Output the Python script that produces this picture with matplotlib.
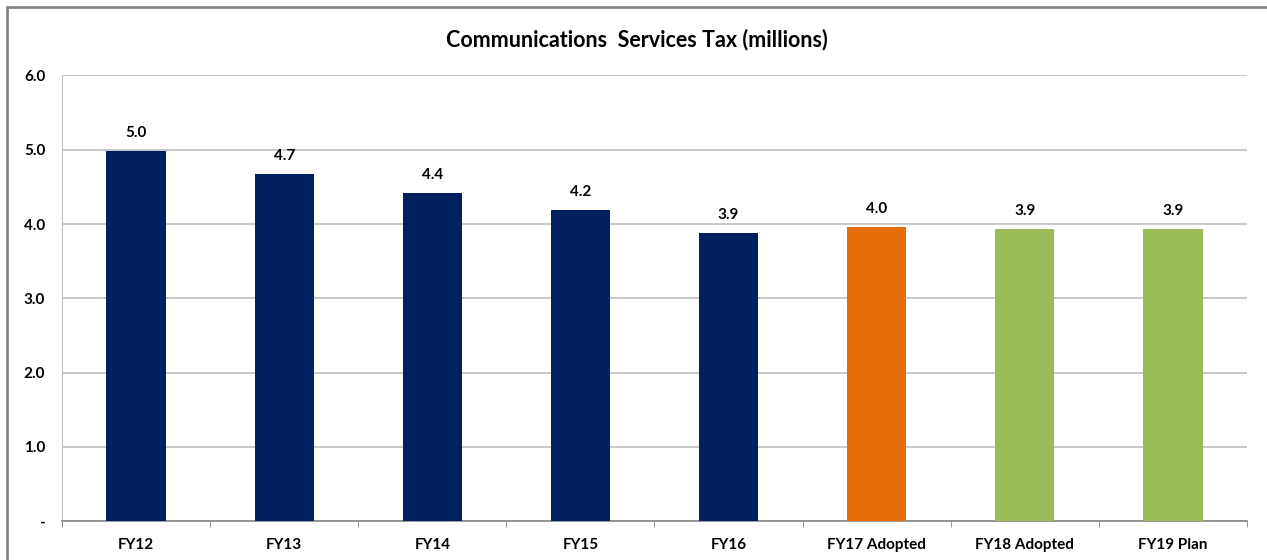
import matplotlib.pyplot as plt
import numpy as np
from matplotlib.patches import Rectangle

# dữ liệu thuế dịch vụ viễn thông (triệu)
categories = ['FY12', 'FY13', 'FY14', 'FY15', 'FY16', 'FY17 Adopted', 'FY18 Adopted', 'FY19 Plan']
values = [4.98, 4.67, 4.42, 4.19, 3.88, 3.96, 3.93, 3.93]
value_labels = ['5.0', '4.7', '4.4', '4.2', '3.9', '4.0', '3.9', '3.9']
bar_colors = ['#002060'] * 5 + ['#E46C0A'] + ['#9BBB59'] * 2
y_ticks = [0, 1, 2, 3, 4, 5, 6]
y_tick_labels = ['-', '1.0', '2.0', '3.0', '4.0', '5.0', '6.0']

plt.rcParams['font.family'] = ['Lato', 'DejaVu Sans']
plt.rcParams['font.weight'] = 'bold'

fig = plt.figure(figsize=(12.67, 5.6), dpi=100)
ax = fig.add_axes([0.0489, 0.0696, 0.9353, 0.7956])

# khung viền xám bên ngoài
fig.patches.append(Rectangle((6.5 / 1267, -0.1), 1.2, 1 - 6.5 / 560 + 0.1,
                             transform=fig.transFigure, fill=False,
                             edgecolor='#868686', linewidth=2))

index = np.arange(len(categories))
bars = ax.bar(index, values, 0.4, color=bar_colors, zorder=3)

for rect, lab in zip(bars, value_labels):
    ax.annotate(lab, (rect.get_x() + rect.get_width() / 2, rect.get_height()),
                xytext=(0, 8), textcoords='offset points',
                ha='center', va='bottom', fontsize=11, fontweight='bold')

ax.set_xlim(-0.5, len(categories) - 0.5)
ax.set_ylim(0, 6)
ax.set_yticks(y_ticks)
ax.set_yticklabels(y_tick_labels, fontsize=11, fontweight='bold')
ax.set_xticks(index)
ax.set_xticklabels(categories, fontsize=11, fontweight='bold')
ax.tick_params(axis='x', which='major', length=0, pad=12)
ax.set_xticks(np.arange(len(categories) + 1) - 0.5, minor=True)
ax.tick_params(axis='x', which='minor', length=4, color='#868686', direction='out')
ax.tick_params(axis='y', length=0, pad=12)

ax.grid(axis='y', color='#BFBFBF', linewidth=1.2, zorder=0)
for s in ['top', 'right']:
    ax.spines[s].set_visible(False)
ax.spines['left'].set_color('#BFBFBF')
ax.spines['bottom'].set_color('#868686')
ax.spines['bottom'].set_linewidth(1.2)

fig.text(0.503, 0.93, 'Communications  Services Tax (millions)',
         ha='center', va='center', fontsize=15.5, fontweight='bold')

plt.savefig('out.png', dpi=100)
